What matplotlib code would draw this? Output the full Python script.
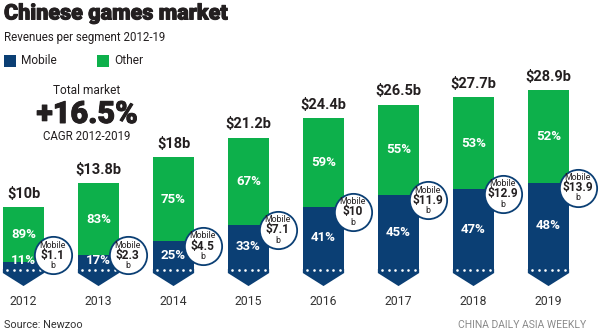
import matplotlib
matplotlib.use('Agg')
import matplotlib.pyplot as plt
import matplotlib.patheffects as pe
from matplotlib.patches import Polygon, Rectangle
import numpy as np

plt.rcParams['font.family'] = ['Roboto', 'DejaVu Sans']

years = ['2012', '2013', '2014', '2015', '2016', '2017', '2018', '2019']
totals = [10, 13.8, 18, 21.2, 24.4, 26.5, 27.7, 28.9]
mobile = [1.1, 2.3, 4.5, 7.1, 10, 11.9, 12.9, 13.9]
mobile_pct = ['11%', '17%', '25%', '33%', '41%', '45%', '47%', '48%']
other_pct = ['89%', '83%', '75%', '67%', '59%', '55%', '53%', '52%']
total_labels = ['$10b', '$13.8b', '$18b', '$21.2b', '$24.4b', '$26.5b', '$27.7b', '$28.9b']
mobile_labels = ['$1.1', '$2.3', '$4.5', '$7.1', '$10', '$11.9', '$12.9', '$13.9']

NAVY = '#0b3f74'
GREEN = '#0db04b'
INK = '#231f20'

W, H = 600, 333
fig = plt.figure(figsize=(W / 100, H / 100), dpi=100)
ax = fig.add_axes([0, 0, 1, 1])
# 75 px per year slot, 6.2 px per billion, baseline at y=269 px
ax.set_xlim(-23.5 / 75, (W - 23.5) / 75)
ax.set_ylim(-(H - 269) / 6.2, 269 / 6.2)
ax.axis('off')

x = np.arange(len(years))
mobile = np.array(mobile)
other = np.array(totals) - mobile
bw = 0.55

ax.bar(x, mobile, bw, color=NAVY, zorder=2)
ax.bar(x, other, bw, bottom=mobile, color=GREEN, zorder=2)

for i in x:
    # arrow-shaped foot under each bar
    foot = Polygon([(i - bw / 2, 0), (i + bw / 2, 0), (i + bw / 2, -0.65),
                    (i, -2.75), (i - bw / 2, -0.65)], closed=True,
                   facecolor=NAVY, edgecolor='none', zorder=2)
    ax.add_patch(foot)
    dots = np.linspace(i - 0.22, i + 0.22, 6)
    ax.scatter(dots, np.full(6, -0.15), s=3.5, color='white', zorder=3, linewidths=0)

    ax.text(i, totals[i] + 1.0, total_labels[i], ha='center', va='bottom',
            fontsize=10.5, fontweight='bold', color=INK)
    ax.text(i, mobile[i] + other[i] / 2, other_pct[i], ha='center', va='center',
            fontsize=9.5, fontweight='bold', color='white', zorder=4)
    ax.text(i, max(mobile[i] / 2, 1.3), mobile_pct[i], ha='center', va='center',
            fontsize=9.5, fontweight='bold', color='white', zorder=4)
    ax.text(i, -5.3, years[i], ha='center', va='center', fontsize=8.8, color='#333333')

# circle badges with the mobile revenue
cx = x + 0.39
cy = np.maximum(mobile - 0.8, 2.2)
ax.scatter(cx, cy, s=720, facecolor='white', edgecolor=NAVY, linewidths=1.3, zorder=5)
for i in x:
    ax.annotate('Mobile', (cx[i], cy[i]), xytext=(0, 7.3), textcoords='offset points',
                ha='center', va='center', fontsize=6.3, color=INK, zorder=6)
    ax.annotate(mobile_labels[i], (cx[i], cy[i]), xytext=(0, 0), textcoords='offset points',
                ha='center', va='center', fontsize=8.6, fontweight='bold', color=INK, zorder=6)
    ax.annotate('b', (cx[i], cy[i]), xytext=(0, -7.3), textcoords='offset points',
                ha='center', va='center', fontsize=6.3, color=INK, zorder=6)


def fy(py):
    return 1 - py / H


bold_fx = [pe.withStroke(linewidth=0.7, foreground=INK)]
fig.text(4 / W, fy(13.5), 'Chinese games market', va='center', fontsize=15.5,
         fontweight='heavy', color=INK, path_effects=bold_fx)
fig.text(4 / W, fy(38), 'Revenues per segment 2012-19', va='center', fontsize=8.3, color=INK)

# legend
for lx, label, col in [(4, 'Mobile', NAVY), (97, 'Other', GREEN)]:
    fig.patches.append(Rectangle((lx / W, fy(67)), 12 / W, 12 / H, transform=fig.transFigure,
                                 facecolor=col, edgecolor='none'))
    fig.text((lx + 17) / W, fy(61), label, va='center', fontsize=8.6, color=INK)

fig.text(87 / W, fy(90), 'Total market', ha='center', va='center', fontsize=8.6, color=INK)
fig.text(87 / W, fy(114), '+16.5%', ha='center', va='center', fontsize=22,
         fontweight='heavy', color=INK, path_effects=bold_fx)
fig.text(87 / W, fy(137), 'CAGR 2012-2019', ha='center', va='center', fontsize=8.3, color=INK)

fig.text(4 / W, fy(325), 'Source: Newzoo', va='center', fontsize=7.8, color='#333333')
fig.text(586 / W, fy(325), 'CHINA DAILY ASIA WEEKLY', ha='right', va='center',
         fontsize=7.5, color='#8a8a8a')

fig.savefig('out.png', dpi=100)
